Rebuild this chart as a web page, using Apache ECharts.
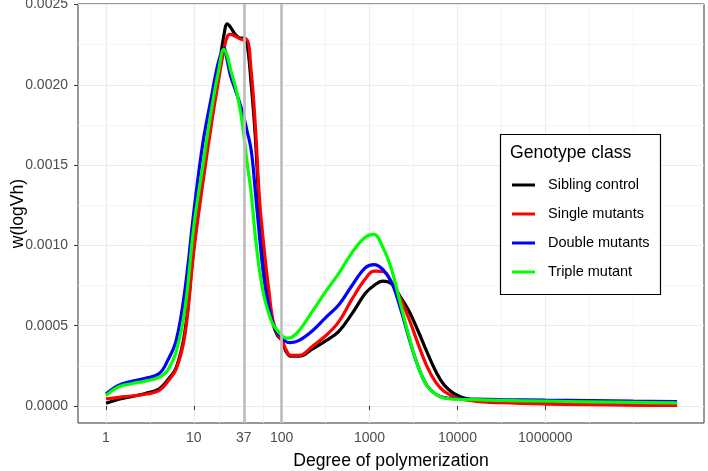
<!DOCTYPE html>
<html><head><meta charset="utf-8">
<script src="https://cdn.jsdelivr.net/npm/echarts@6/dist/echarts.min.js"></script>
<style>html,body{margin:0;padding:0;background:#fff}#c{width:708px;height:471px}</style>
</head><body><div id="c"></div>
<script>
const dp = [1, 1.4, 2, 2.8, 4, 5, 6.3, 7.9, 10, 12.6, 15.8, 19, 22, 24, 26, 30, 34, 37, 40, 45, 50, 56, 63, 71, 79, 89, 100, 112, 126, 158, 224, 316, 447, 631, 891, 1122, 1413, 1778, 2239, 2818, 3548, 4467, 5623, 7079, 10000, 15849, 31623, 100000, 316228, 1000000, 3162278];
const siblingControl = [0.000017,0.000042,0.00006,0.000078,0.000105, 0.00016,0.00024,0.00046,0.00099,0.00141, 0.00179,0.00208,0.00231,0.002379,0.00236, 0.00231,0.00229,0.00229,0.00227,0.002, 0.00168,0.0012,0.0009,0.00068,0.00052, 0.00044,0.00041,0.00034,0.00031,0.00031, 0.000355,0.000405,0.000465,0.000575,0.0007, 0.00075,0.000777,0.00076,0.00068,0.00059, 0.00047,0.00034,0.00022,0.00013,0.000065, 0.000035,0.000025,0.000018,0.000012,0.000008, 0.000005];
const singleMutants = [0.000044,0.000054,0.000062,0.000073,0.000095, 0.00015,0.00023,0.00044,0.00097,0.00138, 0.00175,0.00202,0.00222,0.0023,0.002314, 0.0023,0.002285,0.00228,0.00228,0.00208, 0.00175,0.00128,0.00098,0.00073,0.00054, 0.00045,0.00041,0.00035,0.000315,0.000315, 0.000372,0.000437,0.000525,0.000665,0.00079, 0.00084,0.000838,0.00077,0.00067,0.00054, 0.00039,0.00025,0.00015,0.00009,0.00005, 0.00003,0.00002,0.000012,0.000008,0.000005, 0.000003];
const doubleMutants = [0.000075,0.00013,0.000155,0.000172,0.0002, 0.00028,0.00041,0.00072,0.00121,0.00163, 0.00192,0.00214,0.002228,0.00215,0.00206, 0.00196,0.00187,0.0018,0.00172,0.00159, 0.00134,0.00105,0.00079,0.00062,0.00052, 0.00046,0.00043,0.0004,0.000394,0.000408, 0.000468,0.00055,0.00063,0.00075,0.00086, 0.00088,0.00085,0.00077,0.00061,0.00042, 0.00025,0.00013,0.000075,0.000052,0.000045, 0.000043,0.00004,0.000036,0.000033,0.00003, 0.000028];
const tripleMutant = [0.000065,0.00012,0.00014,0.000155,0.000178, 0.00022,0.00034,0.0006,0.00112,0.00149, 0.00184,0.00208,0.00222,0.00218,0.0021, 0.00198,0.00183,0.00169,0.00153,0.00132, 0.00106,0.00084,0.00068,0.00058,0.00051, 0.00047,0.00044,0.000422,0.000425,0.00047, 0.00059,0.000712,0.000826,0.000955,0.00105, 0.001068,0.00099,0.00085,0.00064,0.00043, 0.00025,0.00013,0.000075,0.00005,0.000042, 0.000039,0.000035,0.00003,0.000026,0.000022, 0.000019];

const seriesNames = ['Sibling control','Single mutants','Double mutants','Triple mutant'];
const seriesColors = ['#000000','#FF0000','#0000FF','#00FF00'];
const seriesValues = [siblingControl, singleMutants, doubleMutants, tripleMutant];

const xTickValues = [1, 10, 37, 100, 1000, 10000, 100000];
const xTickLabels = ['1', '10', '37', '100', '1000', '10000', '1000000'];
const xMinorValues = [3.1623, 19.235, 60.828, 316.23, 3162.3, 31623, 316228, 1000000];
const yTickValues = [0, 0.0005, 0.001, 0.0015, 0.002, 0.0025];
const yMinorValues = [0.00025, 0.00075, 0.00125, 0.00175, 0.00225];
const refLines = [37, 100];

const FONT = 'Liberation Sans, Arial, sans-serif';
const X_MIN = 0.48, X_MAX = 6.4e6, Y_MIN = -0.000106, Y_MAX = 0.002503;

function xLabel(v) {
  let best = 0;
  for (let i = 1; i < xTickValues.length; i++) {
    if (Math.abs(Math.log10(v) - Math.log10(xTickValues[i])) < Math.abs(Math.log10(v) - Math.log10(xTickValues[best]))) best = i;
  }
  return xTickLabels[best];
}

const chart = echarts.init(document.getElementById('c'), null, {renderer: 'canvas'});
const series = seriesNames.map((name, k) => ({
  name: name,
  type: 'line',
  xAxisIndex: 0, yAxisIndex: 0,
  data: dp.map((x, i) => [x, seriesValues[k][i]]),
  smooth: 0.4,
  showSymbol: false,
  symbol: 'none',
  lineStyle: {color: seriesColors[k], width: 3.2},
  itemStyle: {color: seriesColors[k]},
  z: 2 + k,
  silent: true
}));
series[0].markLine = {
  silent: true, symbol: ['none', 'none'], label: {show: false}, z: 8,
  lineStyle: {color: '#BEBEBE', width: 2.7, type: 'solid'},
  data: refLines.map(v => ({xAxis: v}))
};

chart.setOption({
  animation: false,
  backgroundColor: '#ffffff',
  grid: {left: 78, right: 4, top: 4, bottom: 48, show: true, borderColor: '#333333', borderWidth: 1, backgroundColor: 'transparent', containLabel: false, outerBoundsMode: 'none'},
  xAxis: [{
    type: 'log', logBase: 10, min: X_MIN, max: X_MAX,
    name: 'Degree of polymerization', nameLocation: 'middle', nameGap: 29, nameMoveOverlap: false,
    nameTextStyle: {fontFamily: FONT, fontSize: 17.6, color: '#000'},
    axisLine: {show: false},
    axisTick: {show: true, length: 4, customValues: xTickValues, lineStyle: {color: '#333333', width: 1}},
    axisLabel: {show: true, customValues: xTickValues, formatter: xLabel, margin: 8, fontFamily: FONT, fontSize: 14, color: '#4D4D4D'},
    splitLine: {show: true, lineStyle: {color: '#EBEBEB', width: 1.1}},
    minorTick: {show: false}, minorSplitLine: {show: false}
  }, {
    type: 'log', logBase: 10, min: X_MIN, max: X_MAX, position: 'bottom',
    axisLine: {show: false}, axisLabel: {show: false},
    axisTick: {show: false, customValues: xMinorValues},
    splitLine: {show: true, lineStyle: {color: '#F2F2F2', width: 0.8}}
  }],
  yAxis: [{
    type: 'value', min: Y_MIN, max: Y_MAX,
    name: 'w(logVh)', nameLocation: 'middle', nameGap: 51, nameMoveOverlap: false,
    nameTextStyle: {fontFamily: FONT, fontSize: 17.6, color: '#000'},
    axisLine: {show: false},
    axisTick: {show: true, length: 4, customValues: yTickValues, lineStyle: {color: '#333333', width: 1}},
    axisLabel: {show: true, customValues: yTickValues, formatter: v => v.toFixed(4), margin: 10, fontFamily: FONT, fontSize: 14, color: '#4D4D4D'},
    splitLine: {show: true, lineStyle: {color: '#EBEBEB', width: 1.1}}
  }, {
    type: 'value', min: Y_MIN, max: Y_MAX, position: 'left',
    axisLine: {show: false}, axisLabel: {show: false},
    axisTick: {show: false, customValues: yMinorValues},
    splitLine: {show: true, lineStyle: {color: '#F2F2F2', width: 0.8}}
  }],
  legend: {
    show: true, orient: 'vertical', left: 507, top: 172, z: 11,
    data: seriesNames, icon: 'rect', itemWidth: 23, itemHeight: 3, itemGap: 13,
    selectedMode: false,
    textStyle: {fontFamily: FONT, fontSize: 14.5, color: '#000', lineHeight: 16, padding: [0, 0, 0, 8]}
  },
  graphic: [
    {type: 'rect', z: 10, shape: {x: 500.5, y: 134.5, width: 160, height: 160}, style: {fill: '#ffffff', stroke: '#000000', lineWidth: 1.2}},
    {type: 'text', z: 11, x: 510, y: 153, style: {text: 'Genotype class', font: '17.6px ' + FONT, fill: '#000', textVerticalAlign: 'middle', verticalAlign: 'middle'}}
  ],
  series: series
});
</script></body></html>
